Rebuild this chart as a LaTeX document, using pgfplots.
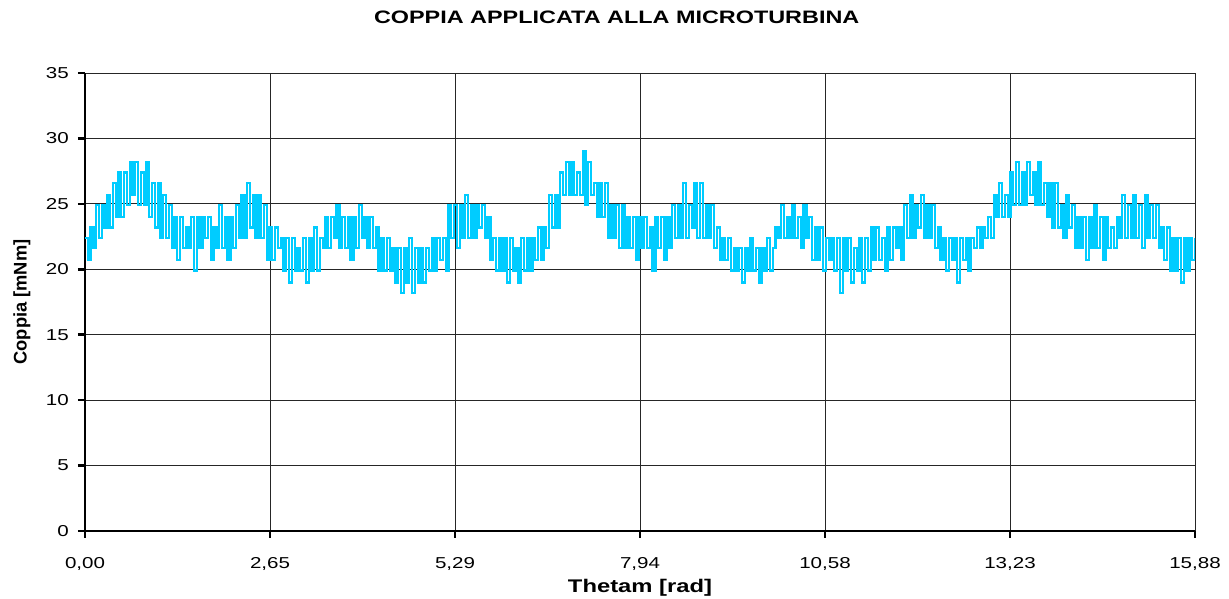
\documentclass[border=0pt]{standalone}
\usepackage{fontspec}
\setmainfont[FakeStretch=1.3]{Liberation Sans}
\newfontfamily\ylabfont{Liberation Sans}
\usepackage{pgfplots}
\pgfplotsset{compat=1.18}
\definecolor{trace}{RGB}{0,204,255}

\begin{document}
\begin{tikzpicture}
\begin{axis}[
    scale only axis,
    width=1110pt, height=458pt,
    xmin=0, xmax=15.88, ymin=0, ymax=35,
    axis x line*=bottom, axis y line*=left,
    axis line style={-, line width=2.6pt, black},
    xtick={0,2.6467,5.2933,7.94,10.5867,13.2333,15.88},
    xticklabels={{0,00},{2,65},{5,29},{7,94},{10,58},{13,23},{15,88}},
    ytick={0,5,...,35},
    tick align=outside,
    major tick length=7pt,
    every tick/.style={line width=2.6pt, black},
    grid=major,
    grid style={line width=0.9pt, black!85},
    /pgf/number format/assume math mode=true,
    ticklabel style={font=\fontsize{15.8}{18}\selectfont},
    xticklabel style={anchor=base, yshift=-31pt},
    yticklabel style={anchor=east, inner sep=0pt, xshift=-9pt},
    title={COPPIA APPLICATA ALLA MICROTURBINA},
    title style={at={(0.479,1)}, anchor=base, yshift=43pt, font=\bfseries\fontsize{18}{20}\selectfont},
    xlabel={Thetam [rad]},
    xlabel style={at={(0.5,0)}, anchor=base, yshift=-62pt, font=\bfseries\fontsize{18.3}{21}\selectfont},
    ylabel={Coppia [mNm]},
    ylabel style={at={(-0.0568,0.5)}, anchor=center, font=\ylabfont\bfseries\fontsize{18.3}{21}\selectfont},
]
\coordinate (O) at (rel axis cs:0,0);
\addplot[trace, line width=2.3pt, const plot] coordinates {
(0.00,22.4)(0.04,20.7)(0.08,23.2)(0.12,21.6)(0.16,24.9)(0.20,22.4)(0.24,24.9)(0.28,23.2)(0.32,25.7)(0.36,23.2)
(0.40,26.6)(0.44,24.0)(0.48,27.4)(0.52,24.0)(0.56,27.4)(0.60,24.9)(0.64,28.2)(0.68,25.7)(0.72,28.2)(0.76,24.9)
(0.80,27.4)(0.84,24.9)(0.88,28.2)(0.92,24.0)(0.96,26.6)(1.00,23.2)(1.04,26.6)(1.08,22.4)(1.12,25.7)(1.16,22.4)
(1.20,24.9)(1.24,21.6)(1.28,24.0)(1.32,20.7)(1.36,24.0)(1.40,21.6)(1.44,23.2)(1.48,21.6)(1.52,24.0)(1.56,19.9)
(1.60,24.0)(1.64,21.6)(1.68,24.0)(1.72,22.4)(1.76,24.0)(1.80,20.7)(1.84,23.2)(1.88,21.6)(1.92,24.9)(1.96,21.6)
(2.00,24.0)(2.04,20.7)(2.08,24.0)(2.12,21.6)(2.16,24.9)(2.20,22.4)(2.24,25.7)(2.28,22.4)(2.32,26.6)(2.36,23.2)
(2.40,25.7)(2.44,22.4)(2.48,25.7)(2.52,22.4)(2.56,24.9)(2.60,20.7)(2.64,23.2)(2.68,20.7)(2.72,23.2)(2.76,21.6)
(2.80,22.4)(2.84,19.9)(2.88,22.4)(2.92,19.0)(2.96,22.4)(3.00,19.9)(3.04,21.6)(3.08,19.9)(3.12,22.4)(3.16,19.0)
(3.20,22.4)(3.24,19.9)(3.28,23.2)(3.32,19.9)(3.36,22.4)(3.40,21.6)(3.44,24.0)(3.48,21.6)(3.52,24.0)(3.56,22.4)
(3.60,24.9)(3.64,21.6)(3.68,24.0)(3.72,21.6)(3.76,24.0)(3.80,20.7)(3.84,24.0)(3.88,21.6)(3.92,24.9)(3.96,22.4)
(4.00,24.0)(4.04,21.6)(4.08,24.0)(4.12,21.6)(4.16,23.2)(4.20,19.9)(4.24,22.4)(4.28,19.9)(4.32,22.4)(4.36,19.9)
(4.40,21.6)(4.44,19.0)(4.48,21.6)(4.52,18.2)(4.56,21.6)(4.60,19.0)(4.64,22.4)(4.68,18.2)(4.72,21.6)(4.76,19.0)
(4.80,21.6)(4.84,19.0)(4.88,21.6)(4.92,19.9)(4.96,22.4)(5.00,19.9)(5.04,22.4)(5.08,20.7)(5.12,22.4)(5.16,19.9)
(5.20,24.9)(5.24,22.4)(5.28,24.9)(5.32,21.6)(5.36,24.9)(5.40,22.4)(5.44,25.7)(5.48,22.4)(5.52,24.9)(5.56,22.4)
(5.60,24.9)(5.64,23.2)(5.68,24.9)(5.72,22.4)(5.76,24.0)(5.80,20.7)(5.84,22.4)(5.88,19.9)(5.92,22.4)(5.96,19.9)
(6.00,22.4)(6.04,19.0)(6.08,22.4)(6.12,19.9)(6.16,21.6)(6.20,19.0)(6.24,22.4)(6.28,19.9)(6.32,22.4)(6.36,19.9)
(6.40,22.4)(6.44,20.7)(6.48,23.2)(6.52,20.7)(6.56,23.2)(6.60,21.6)(6.64,25.7)(6.68,23.2)(6.72,25.7)(6.76,23.2)
(6.80,27.4)(6.84,25.7)(6.88,28.2)(6.92,25.7)(6.96,28.2)(7.00,25.7)(7.04,27.4)(7.08,25.7)(7.12,29.0)(7.16,24.9)
(7.20,28.2)(7.24,25.7)(7.28,26.6)(7.32,24.0)(7.36,26.6)(7.40,24.0)(7.44,26.6)(7.48,22.4)(7.52,24.9)(7.56,22.4)
(7.60,24.9)(7.64,21.6)(7.68,24.9)(7.72,21.6)(7.76,24.0)(7.80,21.6)(7.84,24.0)(7.88,20.7)(7.92,24.0)(7.96,21.6)
(8.00,24.0)(8.04,21.6)(8.08,23.2)(8.12,19.9)(8.16,24.0)(8.20,21.6)(8.24,24.0)(8.28,20.7)(8.32,24.0)(8.36,21.6)
(8.40,24.9)(8.44,22.4)(8.48,24.9)(8.52,22.4)(8.56,26.6)(8.60,22.4)(8.64,24.9)(8.68,23.2)(8.72,26.6)(8.76,22.4)
(8.80,26.6)(8.84,22.4)(8.88,24.9)(8.92,22.4)(8.96,24.9)(9.00,21.6)(9.04,23.2)(9.08,20.7)(9.12,22.4)(9.16,20.7)
(9.20,22.4)(9.24,19.9)(9.28,21.6)(9.32,19.9)(9.36,21.6)(9.40,19.0)(9.44,21.6)(9.48,19.9)(9.52,22.4)(9.56,19.9)
(9.60,21.6)(9.64,19.0)(9.68,21.6)(9.72,19.9)(9.76,22.4)(9.80,19.9)(9.84,21.6)(9.88,23.2)(9.92,22.4)(9.96,24.9)
(10.00,22.4)(10.04,24.0)(10.08,22.4)(10.12,24.9)(10.16,22.4)(10.20,24.0)(10.24,21.6)(10.28,24.9)(10.32,22.4)(10.36,24.0)
(10.40,20.7)(10.44,23.2)(10.48,20.7)(10.52,23.2)(10.56,19.9)(10.60,22.4)(10.64,20.7)(10.68,22.4)(10.72,19.9)(10.76,22.4)
(10.80,18.2)(10.84,22.4)(10.88,19.9)(10.92,22.4)(10.96,19.0)(11.00,21.6)(11.04,19.9)(11.08,22.4)(11.12,19.0)(11.16,22.4)
(11.20,19.9)(11.24,23.2)(11.28,20.7)(11.32,23.2)(11.36,20.7)(11.40,22.4)(11.44,19.9)(11.48,23.2)(11.52,20.7)(11.56,23.2)
(11.60,21.6)(11.64,23.2)(11.68,20.7)(11.72,24.9)(11.76,22.4)(11.80,25.7)(11.84,22.4)(11.88,24.9)(11.92,23.2)(11.96,25.7)
(12.00,22.4)(12.04,24.9)(12.08,22.4)(12.12,24.9)(12.16,21.6)(12.20,23.2)(12.24,20.7)(12.28,22.4)(12.32,19.9)(12.36,22.4)
(12.40,20.7)(12.44,22.4)(12.48,19.0)(12.52,22.4)(12.56,20.7)(12.60,22.4)(12.64,19.9)(12.68,22.4)(12.72,21.6)(12.76,23.2)
(12.80,21.6)(12.84,23.2)(12.88,22.4)(12.92,24.0)(12.96,22.4)(13.00,25.7)(13.04,24.0)(13.08,26.6)(13.12,24.0)(13.16,25.7)
(13.20,24.0)(13.24,27.4)(13.28,24.9)(13.32,28.2)(13.36,24.9)(13.40,27.4)(13.44,24.9)(13.48,28.2)(13.52,25.7)(13.56,27.4)
(13.60,24.9)(13.64,28.2)(13.68,24.9)(13.72,26.6)(13.76,24.0)(13.80,26.6)(13.84,23.2)(13.88,26.6)(13.92,23.2)(13.96,24.9)
(14.00,22.4)(14.04,25.7)(14.08,23.2)(14.12,24.9)(14.16,21.6)(14.20,24.0)(14.24,21.6)(14.28,24.0)(14.32,20.7)(14.36,24.0)
(14.40,21.6)(14.44,24.9)(14.48,21.6)(14.52,24.0)(14.56,20.7)(14.60,24.0)(14.64,21.6)(14.68,23.2)(14.72,21.6)(14.76,24.0)
(14.80,22.4)(14.84,25.7)(14.88,22.4)(14.92,24.9)(14.96,22.4)(15.00,25.7)(15.04,22.4)(15.08,24.9)(15.12,21.6)(15.16,25.7)
(15.20,22.4)(15.24,24.9)(15.28,22.4)(15.32,24.9)(15.36,21.6)(15.40,23.2)(15.44,20.7)(15.48,23.2)(15.52,19.9)(15.56,22.4)
(15.60,19.9)(15.64,22.4)(15.68,19.0)(15.72,22.4)(15.76,19.9)(15.80,22.4)(15.84,20.7)(15.88,22.4)
};
\end{axis}
\pgfresetboundingbox
\path[use as bounding box] (O) ++(-85pt,-68pt) rectangle ++(1229pt,599pt);
\end{tikzpicture}
\end{document}
